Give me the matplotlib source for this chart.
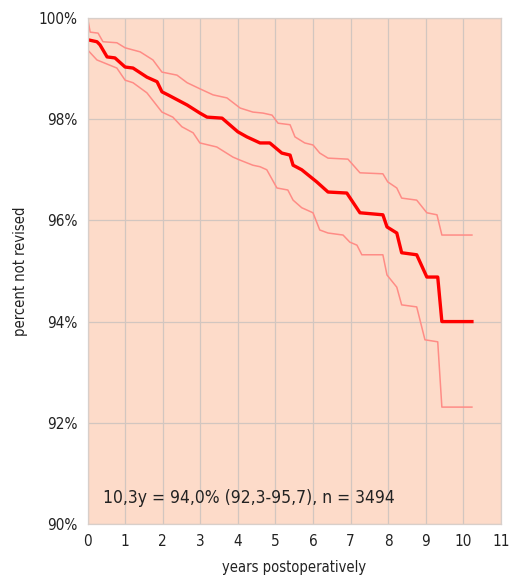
from matplotlib import pyplot as plt

plt.rcParams['font.family'] = ['DejaVu Sans']
plt.rcParams['font.stretch'] = 'condensed'

# Kaplan-Meier estimate (years, percent not revised)
main_x = [0, 0.25, 0.33, 0.52, 0.73, 1.0, 1.21, 1.58, 1.85, 1.98, 2.14, 2.65, 2.99,
          3.18, 3.58, 4.0, 4.24, 4.59, 4.85, 5.17, 5.39, 5.47, 5.70, 6.1, 6.4, 6.9,
          7.25, 7.86, 7.97, 8.23, 8.36, 8.76, 9.03, 9.32, 9.43, 10.23]
main_y = [99.57, 99.53, 99.47, 99.23, 99.21, 99.03, 99.01, 98.83, 98.74, 98.54, 98.48,
          98.28, 98.12, 98.04, 98.02, 97.75, 97.65, 97.53, 97.53, 97.33, 97.29, 97.09,
          97.0, 96.76, 96.56, 96.54, 96.15, 96.11, 95.87, 95.75, 95.36, 95.32, 94.88,
          94.88, 94.0, 94.0]

upper_x = [0, 0.07, 0.28, 0.41, 0.78, 1.0, 1.4, 1.74, 1.98, 2.38, 2.65, 2.99, 3.34,
           3.71, 4.06, 4.40, 4.67, 4.91, 5.07, 5.39, 5.52, 5.78, 6.0, 6.18, 6.40, 6.93,
           7.25, 7.86, 7.99, 8.23, 8.36, 8.76, 9.03, 9.3, 9.43, 10.23]
upper_y = [100.0, 99.72, 99.70, 99.53, 99.51, 99.41, 99.33, 99.17, 98.93, 98.87, 98.72,
           98.60, 98.48, 98.42, 98.22, 98.14, 98.12, 98.08, 97.92, 97.89, 97.65, 97.53,
           97.49, 97.33, 97.23, 97.21, 96.94, 96.92, 96.76, 96.64, 96.44, 96.40, 96.15,
           96.11, 95.71, 95.71]

lower_x = [0, 0.25, 0.78, 1.0, 1.21, 1.58, 1.98, 2.27, 2.51, 2.81, 2.99, 3.44, 3.87,
           4.06, 4.40, 4.59, 4.77, 5.04, 5.33, 5.47, 5.70, 6.0, 6.18, 6.40, 6.80, 6.98,
           7.17, 7.30, 7.86, 7.97, 8.23, 8.36, 8.76, 8.98, 9.32, 9.43, 10.23]
lower_y = [99.37, 99.17, 99.01, 98.77, 98.72, 98.52, 98.14, 98.04, 97.85, 97.73, 97.53,
           97.45, 97.25, 97.19, 97.09, 97.06, 97.0, 96.64, 96.60, 96.40, 96.25, 96.15,
           95.81, 95.75, 95.71, 95.57, 95.51, 95.32, 95.32, 94.92, 94.68, 94.33, 94.29,
           93.64, 93.60, 92.31, 92.31]

x_ticks = list(range(0, 12))
y_ticks = [90, 92, 94, 96, 98, 100]
y_labels = ['90%', '92%', '94%', '96%', '98%', '100%']
note = '10,3y = 94,0% (92,3-95,7), n = 3494'

fig = plt.figure(figsize=(5.09, 5.79), dpi=100)
ax = fig.add_axes([0.172, 0.095, 0.812, 0.874])
ax.set_facecolor('#fddbc9')

ax.plot(upper_x, upper_y, color='#ff8c86', linewidth=1.1)
ax.plot(lower_x, lower_y, color='#ff8c86', linewidth=1.1)
ax.plot(main_x, main_y, color='#ff0000', linewidth=2.4)

ax.set_xlim(0, 11)
ax.set_ylim(90, 100)
ax.set_xticks(x_ticks)
ax.set_yticks(y_ticks)
ax.set_yticklabels(y_labels)
ax.tick_params(length=0, labelsize=11, colors='#222222', pad=7)
ax.grid(True, color='#d2c6c0', linewidth=0.9)
ax.set_axisbelow(True)
for s in ax.spines.values():
    s.set_color('#d8cfca')
    s.set_linewidth(0.9)

ax.text(0.4, 90.42, note, fontsize=12.5, color='#222222')
ax.set_xlabel('years postoperatively', fontsize=10.5, color='#222222', labelpad=8)
ax.set_ylabel('percent not revised', fontsize=10.5, color='#222222', labelpad=8)

plt.savefig('out.png', dpi=100)
